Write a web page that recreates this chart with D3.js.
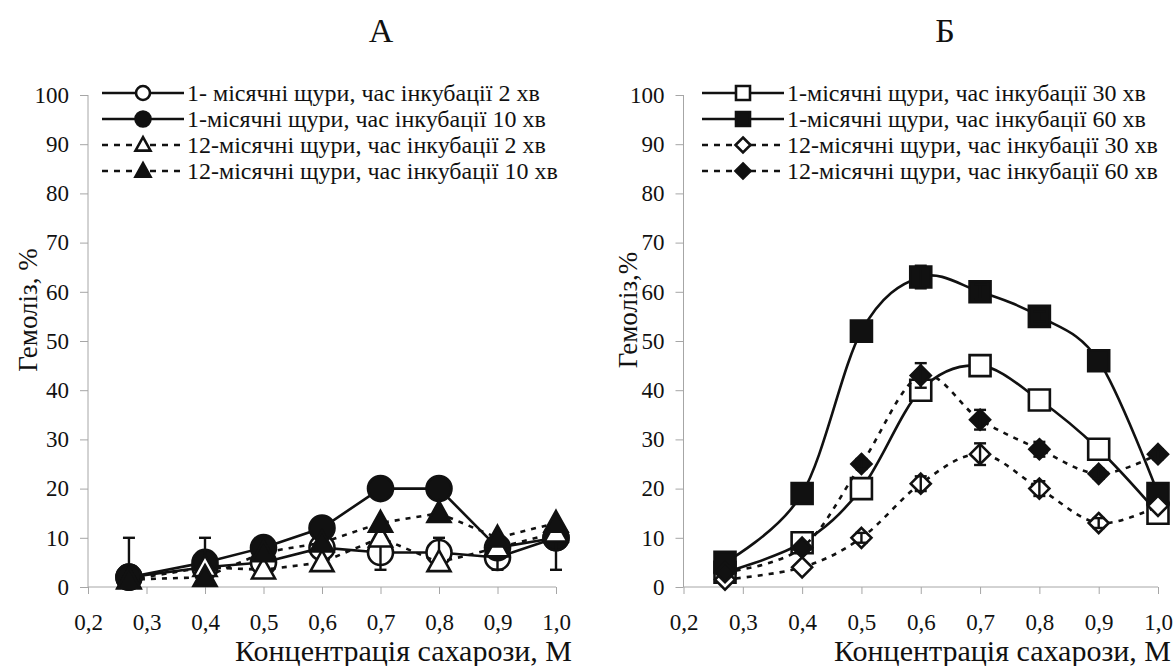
<!DOCTYPE html>
<html>
<head>
<meta charset="utf-8">
<script src="https://cdn.jsdelivr.net/npm/d3@7"></script>
<style>
  body { margin: 0; background: #fff; }
  svg { display: block; }
  svg text { font-family: "Liberation Serif", "Times New Roman", Times, serif; }
</style>
</head>
<body>
<script>
// concentrations of sucrose, M
const conc = [0.27, 0.4, 0.5, 0.6, 0.7, 0.8, 0.9, 1.0];
const xTicks = [0.2, 0.3, 0.4, 0.5, 0.6, 0.7, 0.8, 0.9, 1.0];
const yTicks = [0, 10, 20, 30, 40, 50, 60, 70, 80, 90, 100];

// panel A: hemolysis, %
const a1m2 = [2, 4, 5, 8, 7, 7, 6, 10];
const a1m10 = [2, 5, 8, 12, 20, 20, 8, 10];
const a12m2 = [1.5, 4, 3.5, 5, 10, 5, 8, 11];
const a12m10 = [1.5, 2, 7, 9, 13, 15, 10, 13];
// error bars (up / down)
const a1m2ErrUp = [0, 0, 0, 0, 3.5, 3, 2.5, 0];
const a1m2ErrDown = [0, 0, 0, 0, 3.5, 3, 2.5, 0];
const a1m10ErrUp = [8, 5, 0, 0, 0, 0, 0, 0];
const a1m10ErrDown = [0, 0, 0, 0, 0, 0, 0, 6.5];

// panel Б: hemolysis, %
const b1m30 = [3, 9, 20, 40, 45, 38, 28, 15];
const b1m60 = [5, 19, 52, 63, 60, 55, 46, 19];
const b12m30 = [1.5, 4, 10, 21, 27, 20, 13, 16.5];
const b12m60 = [3, 8, 25, 43, 34, 28, 23, 27];
const b1m60Err = [0, 0, 0, 2.3, 1.5, 1, 0, 0];
const b12m30Err = [0, 0, 1, 1.5, 2.2, 1.5, 1, 0];
const b12m60Err = [0, 0, 1, 2.5, 2, 1.5, 1, 1];

const namesA = [
  "1- місячні щури, час інкубації 2 хв",
  "1-місячні щури, час інкубації 10 хв",
  "12-місячні щури, час інкубації 2 хв",
  "12-місячні щури, час інкубації 10 хв"
];
const namesB = [
  "1-місячні щури, час інкубації 30 хв",
  "1-місячні щури, час інкубації 60 хв",
  "12-місячні щури, час інкубації 30 хв",
  "12-місячні щури, час інкубації 60 хв"
];

const FONT = "Liberation Serif, Times New Roman, serif";
const W = 1176, H = 666;
const svg = d3.select("body").append("svg").attr("width", W).attr("height", H)
  .attr("font-family", FONT);

const y = d3.scaleLinear().domain([0, 100]).range([587, 95]);
const fmt = (d) => d3.format(".1f")(d).replace(".", ",");

function marker(shape, s) {
  // s = full marker size in px
  const h = s / 2;
  if (shape === "circle") return d3.symbol(d3.symbolCircle, Math.PI * h * h)();
  if (shape === "square") return `M${-h},${-h}H${h}V${h}H${-h}Z`;
  if (shape === "diamond") return `M0,${-h}L${h},0L0,${h}L${-h},0Z`;
  if (shape === "triangle") {
    const th = s * 0.9;
    return `M0,${-th * 0.58}L${h},${th * 0.42}L${-h},${th * 0.42}Z`;
  }
}

function styleAxis(a) {
  a.attr("font-family", FONT).attr("font-size", null);
  a.selectAll("line, .domain").attr("stroke", "#a6a6a6");
  a.selectAll("text").attr("font-family", FONT).attr("font-size", 23).attr("fill", "#111");
}

function panel(opt) {
  const x = d3.scaleLinear().domain([0.2, 1.0]).range(opt.xr);
  const g = svg.append("g");

  g.append("g")
    .attr("transform", `translate(${opt.xr[0]},0)`)
    .call(d3.axisLeft(y).tickValues(yTicks).tickSize(8).tickPadding(11))
    .call((a) => a.select(".domain").attr("d", `M-0,${y(100)}V${y(0)}`))
    .call(styleAxis);

  g.append("g")
    .attr("transform", `translate(0,${y(0)})`)
    .call(d3.axisBottom(x).tickValues(xTicks).tickFormat(fmt).tickSize(7).tickPadding(20))
    .call((a) => a.select(".domain").attr("d", `M${opt.xr[0]},0H${opt.xr[1]}`))
    .call(styleAxis);

  // titles
  g.append("text").attr("x", opt.titleX).attr("y", 42).attr("text-anchor", "middle")
    .attr("font-size", 34).attr("fill", "#111").text(opt.title);
  g.append("text").attr("x", opt.xr[1] + opt.xTitleDx).attr("y", 661).attr("text-anchor", "end")
    .attr("font-size", 30).attr("fill", "#111").text("Концентрація сахарози, М");
  g.append("text").attr("transform", `translate(${opt.yTitleX},310) rotate(-90)`)
    .attr("text-anchor", "middle").attr("font-size", 27).attr("fill", "#111").text(opt.yTitle);

  const line = d3.line().x((d) => x(d.c)).y((d) => y(d.v)).curve(opt.curve);

  opt.series.forEach((s) => {
    const pts = conc.map((c, i) => ({
      c, v: s.values[i],
      up: s.errUp ? s.errUp[i] : 0,
      down: s.errDown ? s.errDown[i] : 0
    }));
    const sg = g.append("g");
    sg.append("path").attr("d", line(pts)).attr("fill", "none").attr("stroke", "#111")
      .attr("stroke-width", 2.6).attr("stroke-dasharray", s.dash ? "5,6" : null);
    sg.selectAll(".m").data(pts).join("path")
      .attr("transform", (d) => `translate(${x(d.c)},${y(d.v)})`)
      .attr("d", marker(s.shape, s.size))
      .attr("fill", s.filled ? "#111" : "#fff")
      .attr("stroke", "#111").attr("stroke-width", 2.6);
    const eb = sg.selectAll(".e").data(pts.filter((d) => d.up > 0 || d.down > 0)).join("g")
      .attr("stroke", "#111").attr("stroke-width", 2.4);
    eb.append("line")
      .attr("x1", (d) => x(d.c)).attr("x2", (d) => x(d.c))
      .attr("y1", (d) => y(Math.max(0, d.v - d.down))).attr("y2", (d) => y(d.v + d.up));
    eb.filter((d) => d.up > 0).append("line")
      .attr("x1", (d) => x(d.c) - 6).attr("x2", (d) => x(d.c) + 6)
      .attr("y1", (d) => y(d.v + d.up)).attr("y2", (d) => y(d.v + d.up));
    eb.filter((d) => d.down > 0 && d.v - d.down > 0).append("line")
      .attr("x1", (d) => x(d.c) - 6).attr("x2", (d) => x(d.c) + 6)
      .attr("y1", (d) => y(d.v - d.down)).attr("y2", (d) => y(d.v - d.down));
  });

  // legend
  const lg = g.append("g").attr("transform", `translate(${opt.legendX},0)`);
  const rowY = [93, 119, 145, 171];
  opt.series.forEach((s, i) => {
    const r = lg.append("g").attr("transform", `translate(0,${rowY[i]})`);
    r.append("line").attr("x1", 0).attr("x2", 82).attr("stroke", "#111")
      .attr("stroke-width", 2.6).attr("stroke-dasharray", s.dash ? "6,6" : null);
    r.append("path").attr("transform", "translate(41,0)").attr("d", marker(s.shape, s.legendSize))
      .attr("fill", s.filled ? "#111" : "#fff").attr("stroke", "#111").attr("stroke-width", 2.6);
    r.append("text").attr("x", 85).attr("dy", "0.34em").attr("font-size", 24).attr("fill", "#111")
      .text(opt.names[i]);
  });
}

panel({
  xr: [88, 556],
  title: "А", titleX: 381,
  yTitle: "Гемоліз, %", yTitleX: 37, xTitleDx: 16,
  legendX: 102,
  curve: d3.curveLinear,
  names: namesA,
  series: [
    { values: a1m2, errUp: a1m2ErrUp, errDown: a1m2ErrDown, shape: "circle", filled: false, dash: false, size: 25, legendSize: 14 },
    { values: a1m10, errUp: a1m10ErrUp, errDown: a1m10ErrDown, shape: "circle", filled: true, dash: false, size: 25, legendSize: 15 },
    { values: a12m2, shape: "triangle", filled: false, dash: true, size: 23, legendSize: 15 },
    { values: a12m10, shape: "triangle", filled: true, dash: true, size: 23, legendSize: 15 }
  ]
});

panel({
  xr: [683.5, 1158],
  title: "Б", titleX: 945,
  yTitle: "Гемоліз,%", yTitleX: 637, xTitleDx: 13,
  legendX: 702,
  curve: d3.curveCardinal.tension(0),
  names: namesB,
  series: [
    { values: b1m30, shape: "square", filled: false, dash: false, size: 21, legendSize: 14 },
    { values: b1m60, errUp: b1m60Err, errDown: b1m60Err, shape: "square", filled: true, dash: false, size: 21, legendSize: 14 },
    { values: b12m30, errUp: b12m30Err, errDown: b12m30Err, shape: "diamond", filled: false, dash: true, size: 20, legendSize: 15 },
    { values: b12m60, errUp: b12m60Err, errDown: b12m60Err, shape: "diamond", filled: true, dash: true, size: 20, legendSize: 15 }
  ]
});
</script>
</body>
</html>
